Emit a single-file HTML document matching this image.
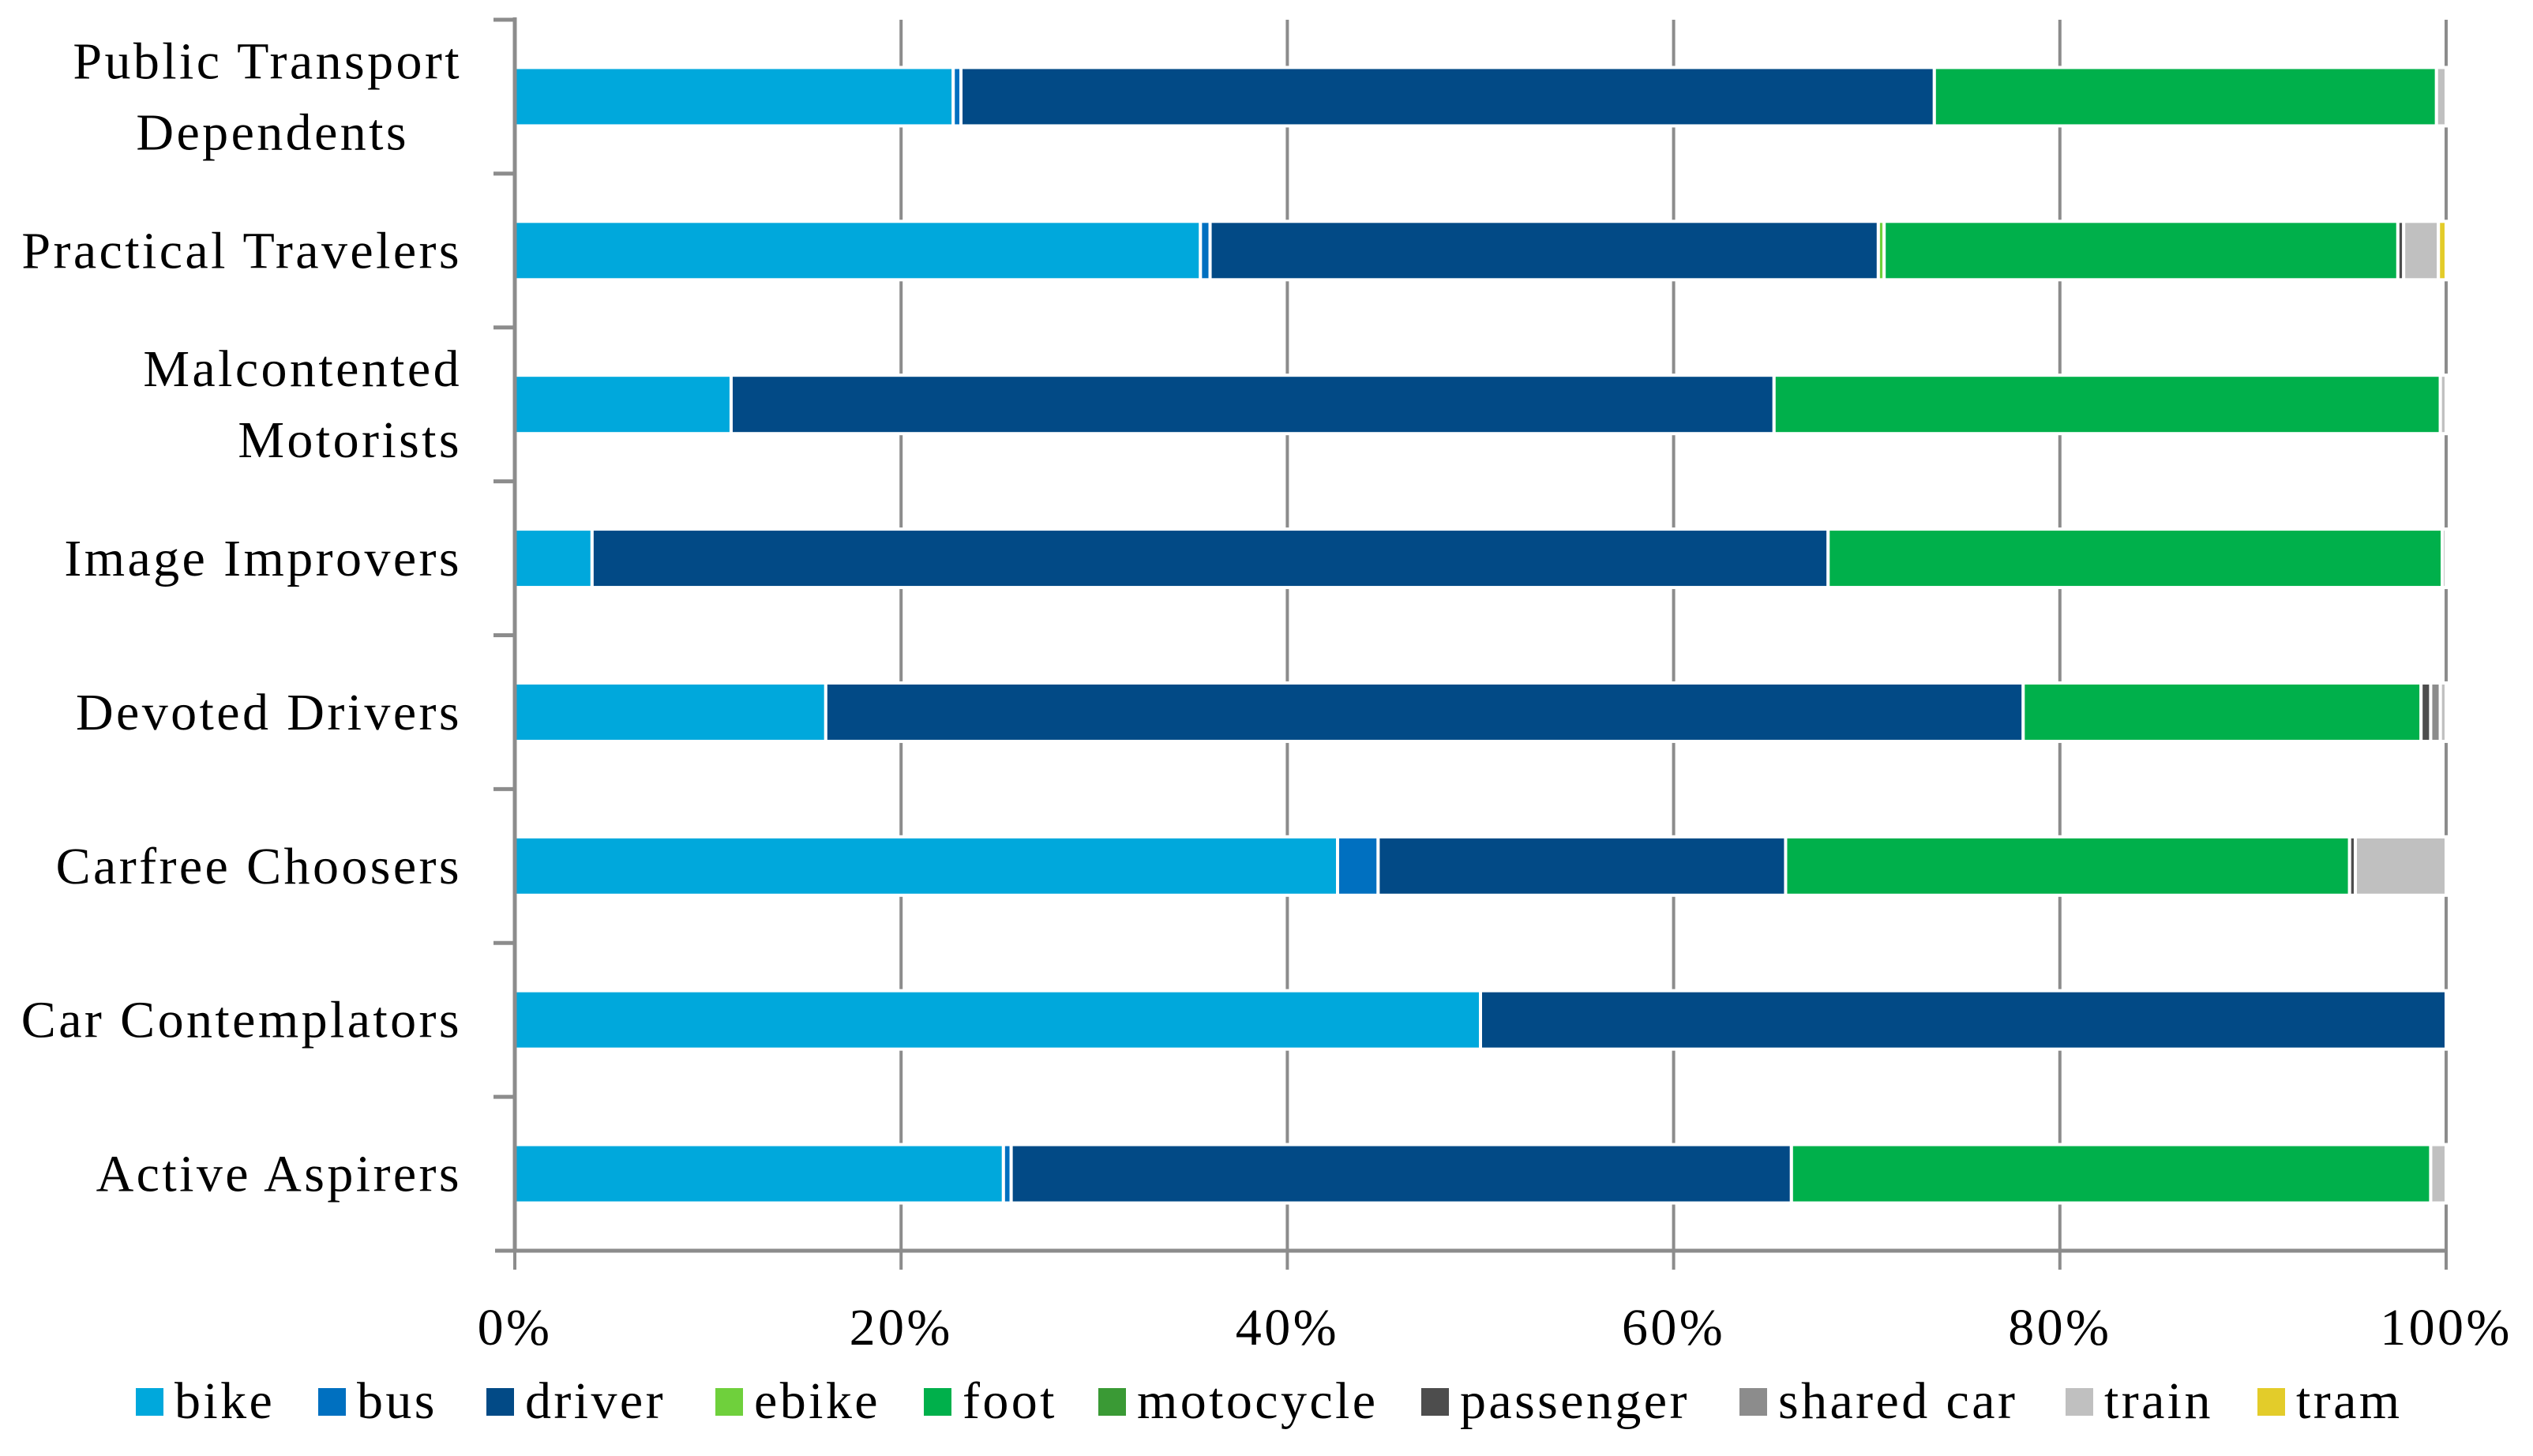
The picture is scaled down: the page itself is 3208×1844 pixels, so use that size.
<!DOCTYPE html>
<html><head><meta charset="utf-8"><style>
html,body{margin:0;padding:0;background:#fff;}
svg{display:block;}
text{font-family:"Liberation Serif",serif;fill:#000;letter-spacing:3.4px;}
</style></head><body>
<svg id="chart" width="3208" height="1844" viewBox="0 0 3208 1844">
<g id="grid"></g>
<g id="bars"></g>
<g id="axes"></g>
<g id="labels"></g>
<g id="legend"></g>
</svg>
<script>
const categories = ["Public Transport Dependents","Practical Travelers","Malcontented Motorists","Image Improvers","Devoted Drivers","Carfree Choosers","Car Contemplators","Active Aspirers"];
const seriesNames = ["bike","bus","driver","ebike","foot","motocycle","passenger","shared car","train","tram"];
const seriesColors = ["#00a8dc","#0070c0","#024a86","#6fd03c","#00b04b","#3a9a35","#4d4d4d","#8c8c8c","#c0c0c0","#e3cc2a"];
const bike      = [22.7,35.5,11.2,4.0,16.1,42.6,50,25.3];
const bus       = [0.4,0.5,0,0,0,2.1,0,0.4];
const driver    = [50.4,34.6,54.0,64.0,62.0,21.1,50,40.4];
const ebike     = [0,0.3,0,0,0,0,0,0];
const foot      = [26.0,26.6,34.5,31.8,20.6,29.2,0,33.1];
const motocycle = [0,0,0,0,0,0,0,0];
const passenger = [0,0.3,0,0,0.5,0.3,0,0];
const sharedCar = [0,0,0,0,0.5,0,0,0];
const train     = [0.5,1.8,0.3,0.2,0.3,4.7,0,0.8];
const tram      = [0,0.4,0,0,0,0,0,0];
const tickLabels = ["0%","20%","40%","60%","80%","100%"];
const tickValues = [0,20,40,60,80,100];
const series = [bike,bus,driver,ebike,foot,motocycle,passenger,sharedCar,train,tram];

const NS="http://www.w3.org/2000/svg";
const X0=652, X1=3098, YT=25, YB=1584;
const band=(YB-YT)/categories.length, barH=74;
const xs=v=>X0+(X1-X0)*v/100;
const yc=i=>YT+band*(i+0.5);
function mk(tag,attrs,parent){const e=document.createElementNS(NS,tag);for(const k in attrs)e.setAttribute(k,attrs[k]);parent.appendChild(e);return e;}
const grid=document.getElementById('grid'),bars=document.getElementById('bars'),axes=document.getElementById('axes'),labels=document.getElementById('labels'),legend=document.getElementById('legend');

tickValues.forEach((t,i)=>{
  if(t>0){
    const l=mk('line',{x1:xs(t),x2:xs(t),y1:YT,y2:1608,stroke:'#8c8c8c','stroke-width':4},grid);
    
    
  } else {
    const l=mk('line',{x1:xs(t),x2:xs(t),y1:YB,y2:1608,stroke:'#8c8c8c','stroke-width':4},axes);
    
    
  }
  const tx=mk('text',{x:xs(t),y:1703,'font-size':66,'text-anchor':'middle'},labels);
  tx.textContent=tickLabels[i];
  
  
});

categories.forEach((c,i)=>{
  let acc=0;
  series.forEach((s,j)=>{
    const v=s[i]; if(v<=0){return;}
    const r=mk('rect',{x:xs(acc),y:yc(i)-barH/2,width:xs(acc+v)-xs(acc),height:barH,fill:seriesColors[j],stroke:'#fff','stroke-width':4},bars);
    
    
    acc+=v;
  });
});

const ya=mk('line',{x1:X0,x2:X0,y1:YT-3,y2:YB,stroke:'#8c8c8c','stroke-width':5},axes);


const xa=mk('line',{x1:627,x2:X1,y1:YB,y2:YB,stroke:'#8c8c8c','stroke-width':5},axes);


for(let i=0;i<categories.length;i++){
  const t=mk('line',{x1:625,x2:X0,y1:YT+band*i,y2:YT+band*i,stroke:'#8c8c8c','stroke-width':5},axes);
  
  
}

categories.forEach((c,i)=>{
  const words=c.split(' ');
  let lines=[c];
  if(c.length>24){lines=[words.slice(0,2).join(' '),words.slice(2).join(' ')];}
  else if(c==="Malcontented Motorists"){lines=["Malcontented","Motorists"];}
  const tx=mk('text',{x:585,'font-size':66,'text-anchor':'end'},labels);
  
  
  if(lines.length===1){tx.setAttribute('y',yc(i)+22);tx.textContent=c;}
  else lines.forEach((ln,k)=>{const ts=mk('tspan',{x:(k===0?585:(c.startsWith("Public")?518:585)),y:yc(i)+22+(k===0?-45:45)},tx);ts.textContent=ln;});
});

const legX=[172,403,616,906,1170,1391,1800,2203,2616,2859];
seriesNames.forEach((n,j)=>{
  const g=mk('g',{},legend);
  
  
  mk('rect',{x:legX[j],y:1758,width:35,height:35,fill:seriesColors[j]},g);
  const t=mk('text',{x:legX[j]+49,y:1796,'font-size':66},g);
  t.textContent=n;
});
</script>
</body></html>
